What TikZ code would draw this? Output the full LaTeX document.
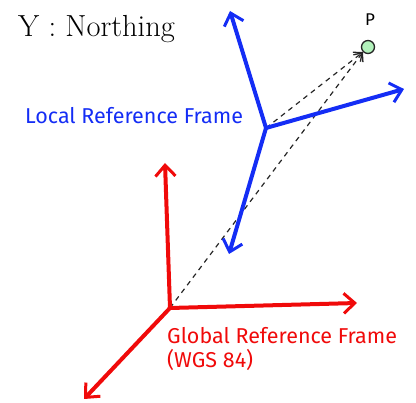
\documentclass[tikz,border=0pt]{standalone}
\usepackage{fontspec}
\newfontfamily\handfont{Fira Sans}
\usetikzlibrary{arrows.meta}
\definecolor{axblue}{RGB}{20,45,245}
\definecolor{axred}{RGB}{240,10,10}
\definecolor{pgreen}{RGB}{178,242,187}
\tikzset{
  axisblue/.style={draw=axblue, line width=4pt, line cap=round, -{Straight Barb[length=11pt,width=20pt,line width=3pt]}},
  axisred/.style={draw=axred, line width=4pt, line cap=round, -{Straight Barb[length=11pt,width=20pt,line width=3pt]}},
  dashline/.style={draw=black!85, line width=1.2pt, dash pattern=on 5pt off 4.5pt},
  handlabel/.style={font=\handfont\fontsize{21.5}{25}\selectfont, anchor=base west, inner sep=0pt, align=left},
}
\begin{document}
\begin{tikzpicture}[x=1pt,y=-1pt]
\useasboundingbox (0,0) rectangle (416,403);
% origins and axis ends
\coordinate (G) at (170,308);
\coordinate (Gup) at (165,163);
\coordinate (Gright) at (357,303);
\coordinate (Gdl) at (84,399);
\coordinate (L) at (266,128);
\coordinate (Lup) at (230,11);
\coordinate (Lright) at (404,89);
\coordinate (Ldown) at (229,254);
% point P
\node[circle, draw=black!85, fill=pgreen, line width=1.3pt, minimum size=13pt, inner sep=0pt] (P) at (368,47) {};
\node[font=\handfont\fontsize{17}{19}\selectfont, anchor=base, inner sep=0pt] (Plabel) at (370,26) {P};
% dashed lines
\draw[dashline, -{Straight Barb[length=7pt,width=12pt,line width=1.3pt]}] (G) -- (P.south west);
\draw[dashline, -{Straight Barb[length=7pt,width=12pt,line width=1.3pt]}] (L) -- (P.south west);
% red axes
\draw[axisred] (G) -- (Gup);
\draw[axisred] (G) -- (Gright);
\draw[axisred] (G) -- (Gdl);
% blue axes
\draw[axisblue] (L) -- (Lup);
\draw[axisblue] (L) -- (Lright);
\draw[axisblue] (L) -- (Ldown);
% labels
\node[anchor=base west, inner sep=0pt, font=\fontsize{30.5}{34}\selectfont] (title) at (18,37) {Y : Northing};
\node[handlabel, text=axblue] (loclab) at (25,124) {Local Reference Frame};
\node[handlabel, text=axred] (glolab) at (167,368) {Global Reference Frame\\[-1pt](WGS 84)};
\end{tikzpicture}
\end{document}
